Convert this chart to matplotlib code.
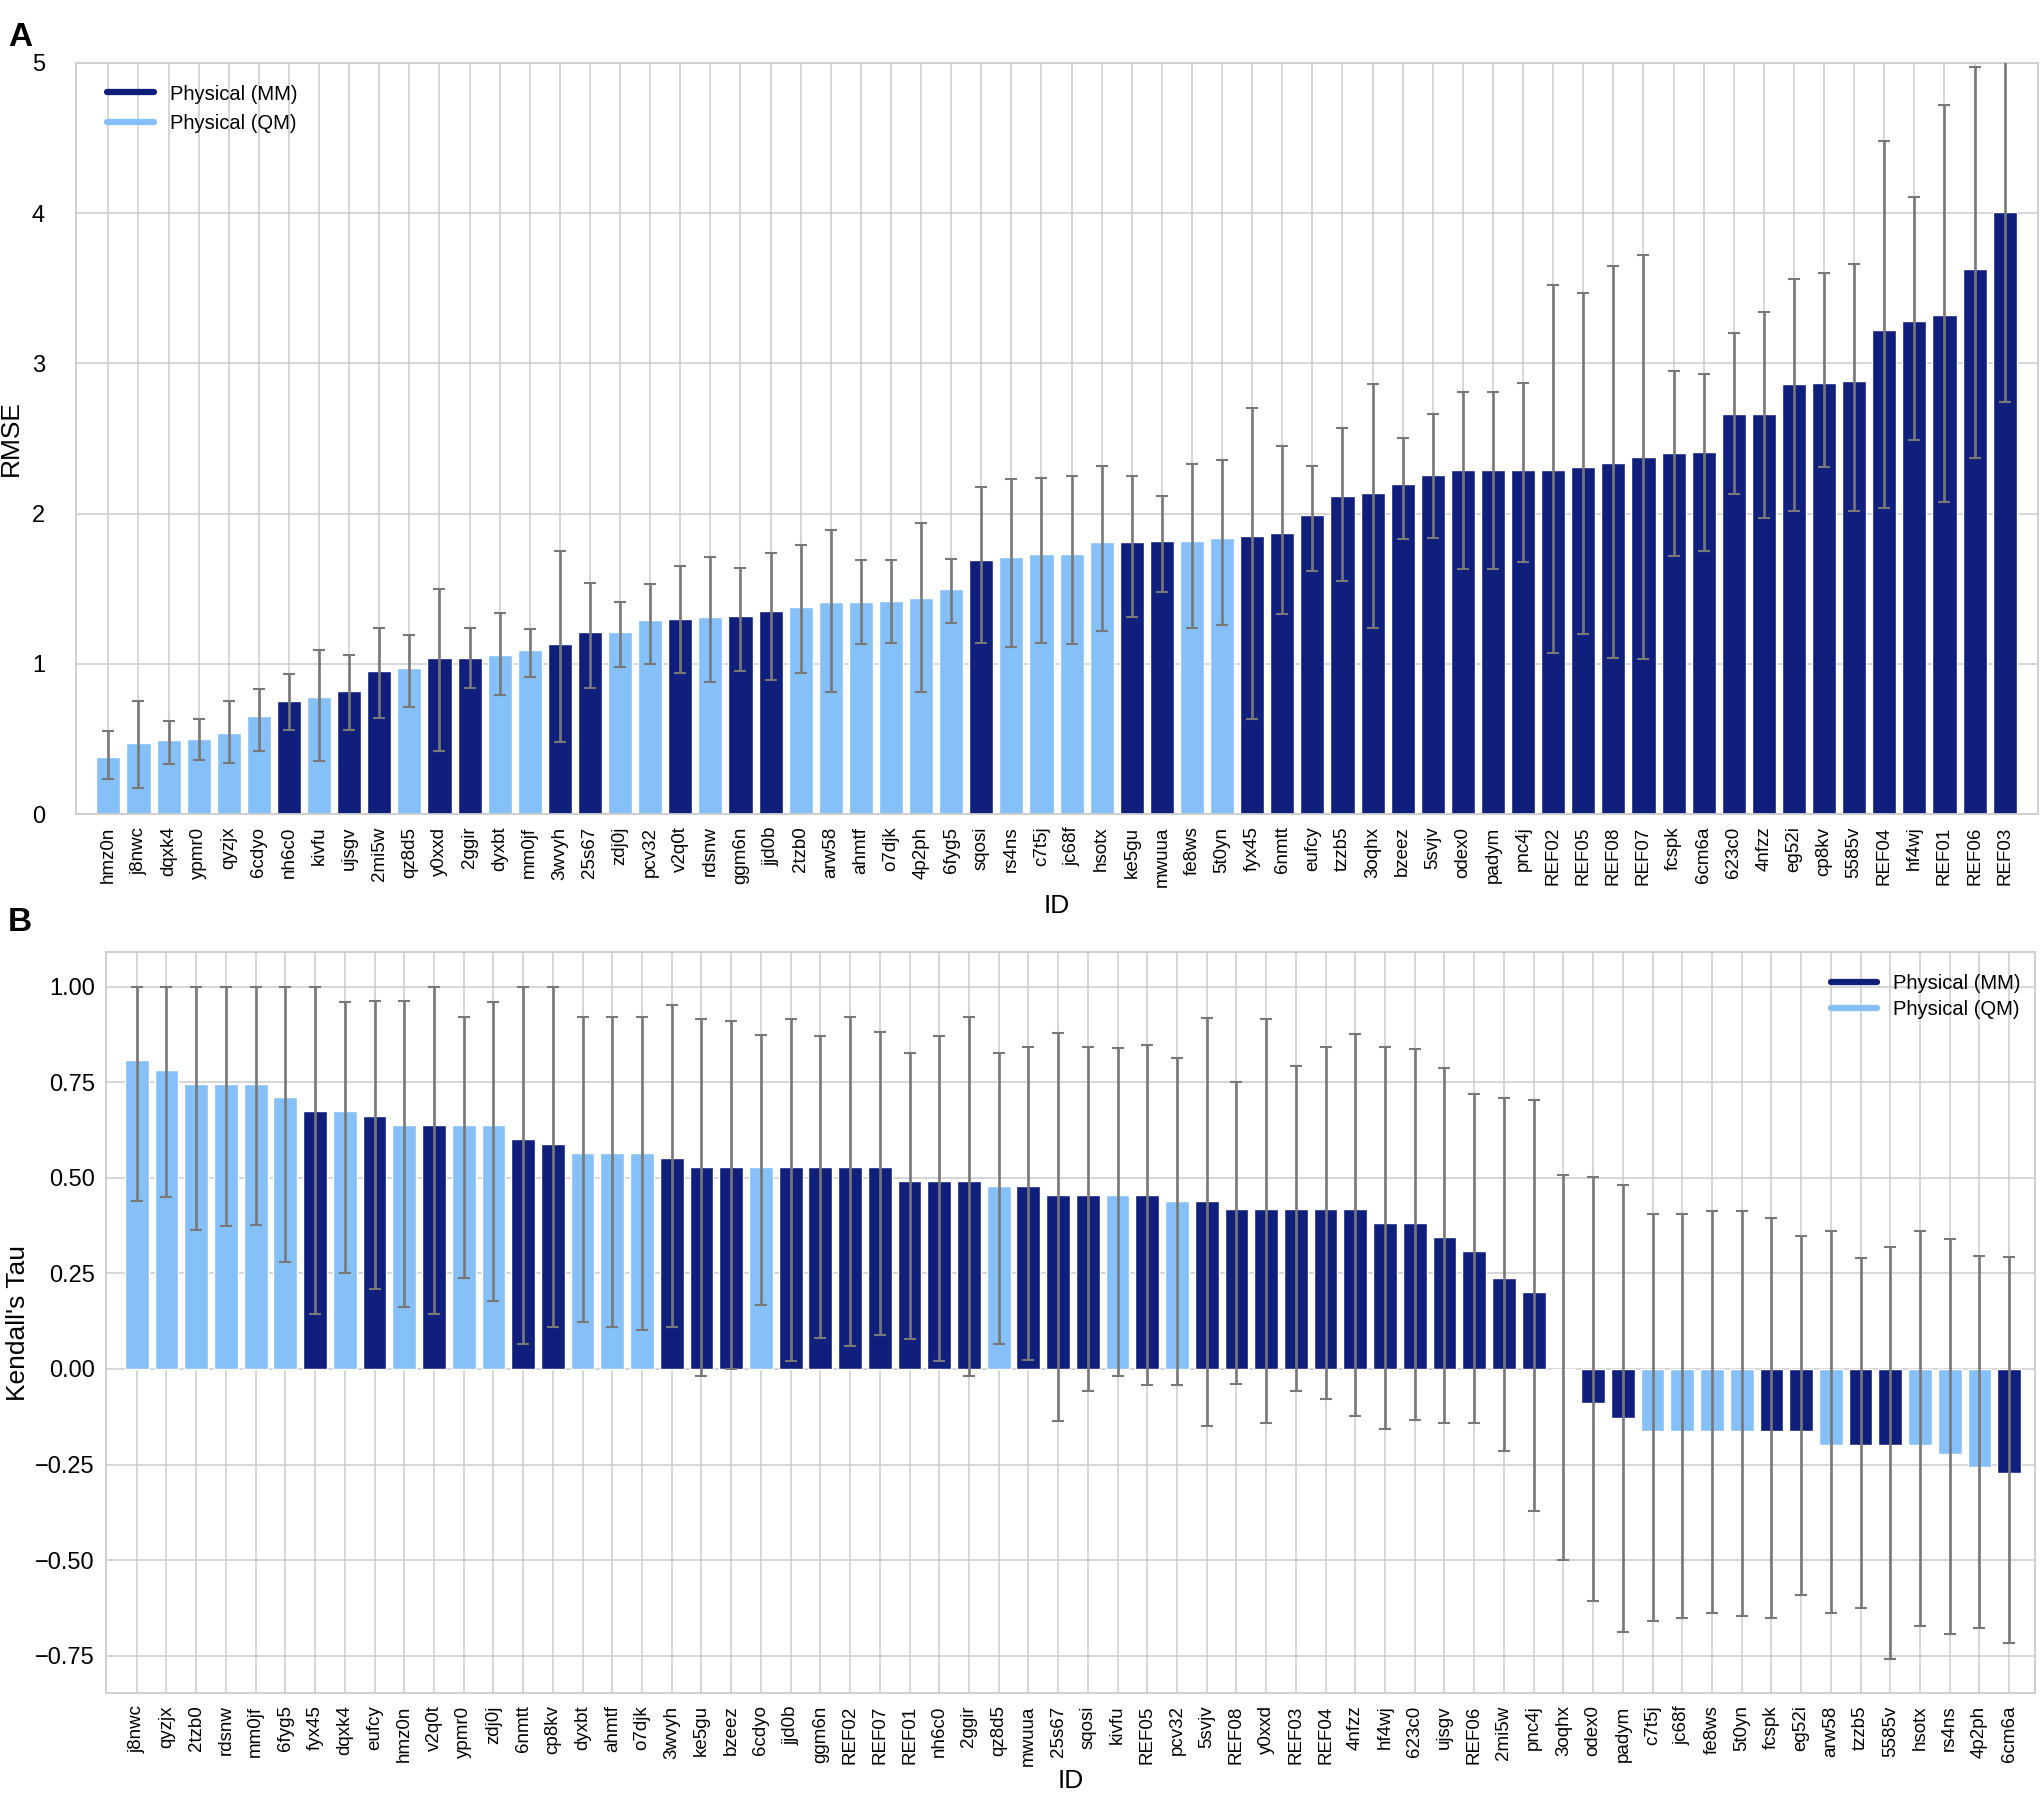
import matplotlib
matplotlib.use("Agg")
import matplotlib.pyplot as plt
from matplotlib.lines import Line2D
import numpy as np

plt.rcParams['font.family'] = ['Liberation Sans', 'DejaVu Sans']

# colours
mm_color = '#101f7b'
qm_color = '#86c0f8'
err_color = '#787878'
grid_color = '#cccccc'

# ids that are Physical (QM), everything else is Physical (MM)
qm_ids = ['hmz0n', 'j8nwc', 'dqxk4', 'ypmr0', 'qyzjx', '6cdyo', 'kivfu', 'qz8d5',
          'dyxbt', 'mm0jf', 'zdj0j', 'pcv32', 'rdsnw', '2tzb0', 'arw58', 'ahmtf',
          'o7djk', '4p2ph', '6fyg5', 'rs4ns', 'c7t5j', 'jc68f', 'hsotx', 'fe8ws', '5t0yn']

# panel A - RMSE
rmse_ids = ['hmz0n', 'j8nwc', 'dqxk4', 'ypmr0', 'qyzjx', '6cdyo', 'nh6c0', 'kivfu',
            'ujsgv', '2mi5w', 'qz8d5', 'y0xxd', '2ggir', 'dyxbt', 'mm0jf', '3wvyh',
            '25s67', 'zdj0j', 'pcv32', 'v2q0t', 'rdsnw', 'ggm6n', 'jjd0b', '2tzb0',
            'arw58', 'ahmtf', 'o7djk', '4p2ph', '6fyg5', 'sqosi', 'rs4ns', 'c7t5j',
            'jc68f', 'hsotx', 'ke5gu', 'mwuua', 'fe8ws', '5t0yn', 'fyx45', '6nmtt',
            'eufcy', 'tzzb5', '3oqhx', 'bzeez', '5svjv', 'odex0', 'padym', 'pnc4j',
            'REF02', 'REF05', 'REF08', 'REF07', 'fcspk', '6cm6a', '623c0', '4nfzz',
            'eg52i', 'cp8kv', '5585v', 'REF04', 'hf4wj', 'REF01', 'REF06', 'REF03']
rmse = [0.38, 0.47, 0.49, 0.50, 0.54, 0.65, 0.75, 0.78,
        0.82, 0.95, 0.97, 1.04, 1.04, 1.06, 1.09, 1.13,
        1.21, 1.21, 1.29, 1.30, 1.31, 1.32, 1.35, 1.38,
        1.41, 1.41, 1.42, 1.44, 1.50, 1.69, 1.71, 1.73,
        1.73, 1.81, 1.81, 1.82, 1.82, 1.84, 1.85, 1.87,
        1.99, 2.12, 2.14, 2.20, 2.26, 2.29, 2.29, 2.29,
        2.29, 2.31, 2.34, 2.38, 2.40, 2.41, 2.66, 2.66,
        2.86, 2.87, 2.88, 3.22, 3.28, 3.32, 3.63, 4.01]
rmse_lo = [0.23, 0.17, 0.33, 0.36, 0.34, 0.42, 0.56, 0.35,
           0.56, 0.64, 0.71, 0.42, 0.84, 0.79, 0.91, 0.48,
           0.84, 0.98, 1.00, 0.94, 0.88, 0.95, 0.89, 0.94,
           0.81, 1.13, 1.14, 0.81, 1.27, 1.14, 1.11, 1.14,
           1.13, 1.22, 1.31, 1.48, 1.24, 1.26, 0.63, 1.33,
           1.62, 1.55, 1.24, 1.83, 1.84, 1.63, 1.63, 1.68,
           1.07, 1.20, 1.04, 1.03, 1.72, 1.75, 2.13, 1.97,
           2.02, 2.31, 2.02, 2.04, 2.49, 2.08, 2.37, 2.74]
rmse_hi = [0.55, 0.75, 0.62, 0.63, 0.75, 0.83, 0.93, 1.09,
           1.06, 1.24, 1.19, 1.50, 1.24, 1.34, 1.23, 1.75,
           1.54, 1.41, 1.53, 1.65, 1.71, 1.64, 1.74, 1.79,
           1.89, 1.69, 1.69, 1.94, 1.70, 2.18, 2.23, 2.24,
           2.25, 2.32, 2.25, 2.12, 2.33, 2.36, 2.70, 2.45,
           2.32, 2.57, 2.86, 2.50, 2.66, 2.81, 2.81, 2.87,
           3.52, 3.47, 3.65, 3.72, 2.95, 2.93, 3.20, 3.34,
           3.56, 3.60, 3.66, 4.48, 4.11, 4.72, 4.97, 5.40]

# panel B - Kendall's Tau
tau_ids = ['j8nwc', 'qyzjx', '2tzb0', 'rdsnw', 'mm0jf', '6fyg5', 'fyx45', 'dqxk4',
           'eufcy', 'hmz0n', 'v2q0t', 'ypmr0', 'zdj0j', '6nmtt', 'cp8kv', 'dyxbt',
           'ahmtf', 'o7djk', '3wvyh', 'ke5gu', 'bzeez', '6cdyo', 'jjd0b', 'ggm6n',
           'REF02', 'REF07', 'REF01', 'nh6c0', '2ggir', 'qz8d5', 'mwuua', '25s67',
           'sqosi', 'kivfu', 'REF05', 'pcv32', '5svjv', 'REF08', 'y0xxd', 'REF03',
           'REF04', '4nfzz', 'hf4wj', '623c0', 'ujsgv', 'REF06', '2mi5w', 'pnc4j',
           '3oqhx', 'odex0', 'padym', 'c7t5j', 'jc68f', 'fe8ws', '5t0yn', 'fcspk',
           'eg52i', 'arw58', 'tzzb5', '5585v', 'hsotx', 'rs4ns', '4p2ph', '6cm6a']
tau = [0.808, 0.783, 0.745, 0.745, 0.745, 0.710, 0.674, 0.674,
       0.661, 0.637, 0.637, 0.637, 0.637, 0.600, 0.589, 0.565,
       0.565, 0.565, 0.551, 0.528, 0.528, 0.528, 0.528, 0.528,
       0.528, 0.528, 0.492, 0.492, 0.492, 0.479, 0.479, 0.455,
       0.455, 0.455, 0.455, 0.440, 0.440, 0.418, 0.418, 0.418,
       0.418, 0.418, 0.382, 0.382, 0.345, 0.308, 0.237, 0.201,
       0.0, -0.089, -0.127, -0.162, -0.162, -0.162, -0.162, -0.162,
       -0.162, -0.199, -0.199, -0.199, -0.199, -0.223, -0.256, -0.271]
tau_lo = [0.439, 0.449, 0.363, 0.374, 0.377, 0.281, 0.144, 0.250,
          0.208, 0.161, 0.144, 0.237, 0.177, 0.065, 0.109, 0.122,
          0.109, 0.103, 0.109, -0.018, 0.0, 0.167, 0.022, 0.082,
          0.061, 0.088, 0.079, 0.022, -0.018, 0.065, 0.024, -0.135,
          -0.057, -0.018, -0.042, -0.042, -0.149, -0.039, -0.140, -0.057,
          -0.079, -0.124, -0.158, -0.134, -0.140, -0.140, -0.214, -0.371,
          -0.499, -0.607, -0.688, -0.658, -0.650, -0.638, -0.646, -0.650,
          -0.591, -0.638, -0.624, -0.757, -0.673, -0.692, -0.677, -0.717]
tau_hi = [1.0, 1.0, 1.0, 1.0, 1.0, 1.0, 1.0, 0.960,
          0.961, 0.961, 1.0, 0.921, 0.960, 1.0, 1.0, 0.921,
          0.920, 0.920, 0.951, 0.915, 0.911, 0.873, 0.915, 0.871,
          0.921, 0.881, 0.826, 0.871, 0.920, 0.826, 0.841, 0.878,
          0.841, 0.838, 0.847, 0.814, 0.918, 0.750, 0.915, 0.792,
          0.841, 0.875, 0.841, 0.836, 0.787, 0.720, 0.708, 0.702,
          0.506, 0.501, 0.482, 0.406, 0.406, 0.412, 0.412, 0.396,
          0.348, 0.362, 0.289, 0.320, 0.362, 0.341, 0.295, 0.292]


def draw_panel(ax, ids, vals, lo, hi):
    x = np.arange(len(ids))
    vals = np.array(vals)
    cols = [qm_color if i in qm_ids else mm_color for i in ids]
    ax.bar(x, vals, width=0.8, color=cols, edgecolor='white', linewidth=1.0, zorder=2)
    yerr = [vals - np.array(lo), np.array(hi) - vals]
    ax.errorbar(x, vals, yerr=yerr, fmt='none', ecolor=err_color, elinewidth=1.9,
                capsize=4.5, capthick=1.5, zorder=3)
    ax.set_xticks(x)
    ax.set_xticklabels(ids, rotation=90, fontsize=13.5)
    ax.tick_params(axis='both', length=0)
    ax.tick_params(axis='x', pad=9)
    ax.tick_params(axis='y', labelsize=17)
    ax.grid(True, color=grid_color, linewidth=1.1, zorder=0)
    ax.set_axisbelow(True)
    for s in ax.spines.values():
        s.set_color(grid_color)
        s.set_linewidth(1.3)
    ax.set_xlabel('ID', fontsize=19)


fig = plt.figure(figsize=(20.43, 17.93), dpi=100)

# ---- panel A
axA = fig.add_axes([0.037, 0.546, 0.9606, 0.4189])
draw_panel(axA, rmse_ids, rmse, rmse_lo, rmse_hi)
axA.set_xlim(-1.09, 64.11)
axA.set_ylim(0, 5)
axA.set_yticks([0, 1, 2, 3, 4, 5])
axA.tick_params(axis='y', pad=22)
axA.set_ylabel('RMSE', fontsize=19)
axA.yaxis.set_label_coords(-0.0268, 0.5)
axA.xaxis.set_label_coords(0.5, -0.106)

# ---- panel B
axB = fig.add_axes([0.0521, 0.0558, 0.944, 0.4132])
draw_panel(axB, tau_ids, tau, tau_lo, tau_hi)
axB.set_xlim(-1.02, 63.87)
axB.set_ylim(-0.847, 1.09)
axB.set_yticks([-0.75, -0.5, -0.25, 0.0, 0.25, 0.5, 0.75, 1.0])
axB.set_yticklabels(['\u22120.75', '\u22120.50', '\u22120.25', '0.00', '0.25', '0.50', '0.75', '1.00'])
axB.tick_params(axis='y', pad=8.5)
axB.set_ylabel("Kendall's Tau", fontsize=19)
axB.yaxis.set_label_coords(-0.0398, 0.5)
axB.xaxis.set_label_coords(0.5, -0.103)

# legends
handles = [Line2D([0], [0], color=mm_color, lw=4.5, solid_capstyle='round'),
           Line2D([0], [0], color=qm_color, lw=4.5, solid_capstyle='round')]
labels = ['Physical (MM)', 'Physical (QM)']
axA.legend(handles, labels, loc='upper left', frameon=False, fontsize=14.5,
           handlelength=2.3, borderaxespad=0.3, bbox_to_anchor=(0.009, 0.99))
axB.legend(handles, labels, loc='upper right', frameon=False, fontsize=14.5,
           handlelength=2.3, borderaxespad=0.3, labelspacing=0.35,
           bbox_to_anchor=(1.0, 0.99))

# panel letters
fig.text(0.004, 0.988, 'A', fontsize=24, fontweight='bold', va='top')
fig.text(0.004, 0.494, 'B', fontsize=24, fontweight='bold', va='top')

fig.savefig('out.png', dpi=100)
